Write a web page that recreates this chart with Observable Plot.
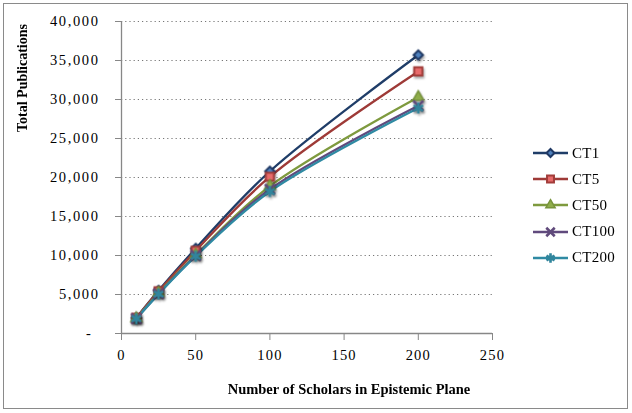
<!DOCTYPE html>
<html>
<head>
<meta charset="utf-8">
<script src="https://cdn.jsdelivr.net/npm/d3@7"></script>
<script src="https://cdn.jsdelivr.net/npm/@observablehq/plot@0.6"></script>
<style>
  html, body { margin: 0; padding: 0; background: #fff; }
  #wrap { position: relative; width: 632px; height: 413px; overflow: hidden; font-family: "Liberation Serif", serif; }
  #frame { position: absolute; left: 3px; top: 3px; width: 625px; height: 406px; border: 1.5px solid #8a8a8a; box-sizing: border-box; }
  #chart { position: absolute; left: 0; top: 0; }
  .title { position: absolute; font-family: "Liberation Serif", serif; font-weight: bold; color: #000; white-space: nowrap; text-align: center; }
  #ytitle { font-size: 14px; width: 200px; left: -77px; top: 70px; transform: rotate(-90deg); }
  #xtitle { font-size: 14.5px; width: 320px; left: 189px; top: 381px; }
  #legend { position: absolute; left: 533px; top: 140px; }
  .lrow { display: flex; align-items: center; height: 26.2px; }
  .lrow span { font-family: "Liberation Serif", serif; font-size: 15px; letter-spacing: 0.3px; margin-left: 3px; color: #000; }
</style>
</head>
<body>
<div id="wrap">
  <div id="chart"></div>
  <div id="frame"></div>
  <div class="title" id="ytitle">Total Publications</div>
  <div class="title" id="xtitle">Number of Scholars in Epistemic Plane</div>
  <div id="legend"></div>
</div>
<script>
// ---- data ----
const scholars = [10, 25, 50, 100, 200];
const seriesNames = ["CT1", "CT5", "CT50", "CT100", "CT200"];
const ct1   = [2000, 5500, 10900, 20800, 35700];
const ct5   = [2000, 5400, 10600, 20100, 33600];
const ct50  = [1950, 5200, 10100, 18900, 30300];
const ct100 = [1900, 5100, 10000, 18500, 29200];
const ct200 = [1900, 5050, 9900, 18200, 28900];
const yTicks = [0, 5000, 10000, 15000, 20000, 25000, 30000, 35000, 40000];
const xTicks = [0, 50, 100, 150, 200, 250];

// ---- styles ----
const seriesValues = [ct1, ct5, ct50, ct100, ct200];
const lineColors = ["#1f3d68", "#9e3a37", "#7e9a3e", "#604a7d", "#2f8aa3"];
const markers = [
  {symbol: "diamond2", r: 4.2, fill: "#4f81bd", stroke: "#1f3864", strokeWidth: 2},
  {symbol: "square2", r: 5.2, fill: "#e86b6b", stroke: "#a23d3a", strokeWidth: 2},
  {symbol: "triangle2", r: 5.2, fill: "#8fad4a", stroke: "#77933c", strokeWidth: 1.5},
  {symbol: "times", r: 4.6, fill: "none", stroke: "#604a7b", strokeWidth: 2.6},
  {symbol: "asterisk", r: 5.2, fill: "none", stroke: "#31859c", strokeWidth: 2.6}
];

const rows = [];
seriesNames.forEach((s, i) => scholars.forEach((x, j) => rows.push({series: s, x, y: seriesValues[i][j]})));

const tickFont = "Liberation Serif";
const plot = Plot.plot({
  width: 632,
  height: 413,
  marginLeft: 121,
  marginRight: 140,
  marginTop: 21,
  marginBottom: 80,
  style: {fontFamily: tickFont, fontSize: "14.5px", color: "#000", background: "transparent", overflow: "visible"},
  x: {domain: [0, 250], axis: null},
  y: {domain: [0, 40000], axis: null},
  color: {domain: seriesNames, range: lineColors},
  marks: [
    Plot.ruleY(yTicks.filter(d => d > 0), {stroke: "#777", strokeWidth: 1.2, strokeDasharray: "1.2,3"}),
    Plot.ruleX([0], {stroke: "#878787", strokeWidth: 1.3}),
    Plot.ruleY([0], {stroke: "#878787", strokeWidth: 1.3}),
    Plot.axisY({ticks: yTicks.filter(d => d > 0), label: null, tickSize: 6, tickPadding: 16, stroke: "#878787",
      tickFormat: d => d3.format(",")(d), fill: "#000", fontSize: 14.5}),
    Plot.axisY({ticks: [0], label: null, tickSize: 6, tickPadding: 23, stroke: "#878787", tickFormat: () => "-", fill: "#000", fontSize: 14.5}),
    Plot.axisX({ticks: xTicks, label: null, tickSize: 7, tickPadding: 9, stroke: "#878787", tickFormat: d => String(d), fill: "#000", fontSize: 14.5}),
    Plot.line(rows, {x: "x", y: "y", z: "series", stroke: "series", strokeWidth: 2.3, curve: "catmull-rom"}),
    ...seriesNames.map((s, i) => Plot.dot(rows.filter(d => d.series === s), {x: "x", y: "y", ...markers[i]}))
  ]
});
document.getElementById("chart").appendChild(plot);

// drop shadows on markers, spacing on tick labels
d3.select(plot).selectAll('g[aria-label="dot"]').style("filter", "drop-shadow(1px 2px 1.2px rgba(0,0,0,0.35))");
d3.select(plot).selectAll('g[aria-label="y-axis tick label"] text').style("letter-spacing", "1.6px");
d3.select(plot).selectAll('g[aria-label="x-axis tick label"] text').style("letter-spacing", "1.2px");

// legend
const legend = d3.select("#legend");
const symMap = {diamond2: d3.symbolDiamond2, square2: d3.symbolSquare2, triangle2: d3.symbolTriangle2, times: d3.symbolTimes, asterisk: d3.symbolAsterisk};
seriesNames.forEach((s, i) => {
  const row = legend.append("div").attr("class", "lrow");
  const svg = row.append("svg").attr("width", 36).attr("height", 14);
  svg.append("line").attr("x1", 0).attr("x2", 35).attr("y1", 7).attr("y2", 7)
    .attr("stroke", lineColors[i]).attr("stroke-width", 2.3);
  const m = markers[i];
  svg.append("path").attr("transform", "translate(17.5,7)")
    .attr("d", d3.symbol(symMap[m.symbol], Math.PI * (m.r * 0.85) ** 2)())
    .attr("fill", m.fill).attr("stroke", m.stroke).attr("stroke-width", m.strokeWidth);
  row.append("span").text(s);
});
</script>
</body>
</html>
